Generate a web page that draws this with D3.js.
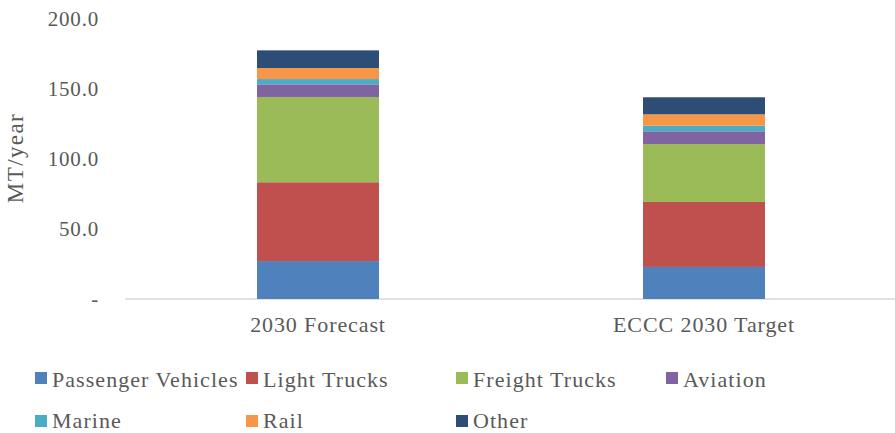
<!DOCTYPE html>
<html><head><meta charset="utf-8">
<script src="https://cdn.jsdelivr.net/npm/d3@7"></script>
<style>body{margin:0;background:#fff}svg{display:block}</style>
</head><body><svg id="c" width="895" height="433"></svg>
<script>
const categories = ["2030 Forecast", "ECCC 2030 Target"];
const seriesNames = ["Passenger Vehicles", "Light Trucks", "Freight Trucks", "Aviation", "Marine", "Rail", "Other"];
const passengerVehicles = [27.1, 22.9];
const lightTrucks = [56.3, 46.4];
const freightTrucks = [60.9, 41.4];
const aviation = [9.0, 9.1];
const marine = [3.8, 4.0];
const rail = [7.9, 8.1];
const other = [12.6, 12.2];
const colors = ["#4f81bd", "#c0504d", "#9bbb59", "#8064a2", "#4bacc6", "#f79646", "#2c4d75"];
const yTicks = [0, 50, 100, 150, 200];
const yTickLabels = ["-", "50.0", "100.0", "150.0", "200.0"];

(function () {
const FONT = "'Liberation Serif', 'Times New Roman', Times, 'DejaVu Serif', serif";
const values = [passengerVehicles, lightTrucks, freightTrucks, aviation, marine, rail, other];
const rows = categories.map((c, i) => {
  const r = {cat: c};
  seriesNames.forEach((s, j) => r[s] = values[j][i]);
  return r;
});
const stack = d3.stack().keys(seriesNames)(rows);

const svg = d3.select("#c");
const mLeft = 125, mRight = 897, mTop = 19, mBottom = 299;
const x = d3.scaleBand().domain(categories).range([mLeft, mRight]).paddingInner(0.684).paddingOuter(0.342);
const y = d3.scaleLinear().domain([0, 200]).range([mBottom, mTop]);
const color = d3.scaleOrdinal().domain(seriesNames).range(colors);

svg.append("line").attr("x1", mLeft).attr("x2", 895).attr("y1", y(0)).attr("y2", y(0))
  .attr("stroke", "#d9d9d9").attr("stroke-width", 1.5);

svg.append("g").selectAll("g").data(stack).join("g").attr("fill", d => color(d.key))
  .selectAll("rect").data(d => d).join("rect")
  .attr("x", d => x(d.data.cat)).attr("width", x.bandwidth())
  .attr("y", d => y(d[1])).attr("height", d => y(d[0]) - y(d[1]));

const txt = (sel, size, ls) => sel.attr("font-family", FONT).attr("fill", "#595959")
  .attr("font-size", size).attr("letter-spacing", ls);

svg.append("g").selectAll("text").data(yTicks).join("text")
  .attr("x", 99).attr("y", d => y(d) + 7).attr("text-anchor", "end")
  .call(txt, 21, 0.8).text((d, i) => yTickLabels[i]);

svg.append("text").attr("transform", `translate(23,158) rotate(-90)`)
  .attr("text-anchor", "middle").call(txt, 23, 1.4).text("MT/year");

svg.append("g").selectAll("text").data(categories).join("text")
  .attr("x", d => x(d) + x.bandwidth() / 2).attr("y", 332)
  .attr("text-anchor", "middle").call(txt, 22, 0.9).text(d => d);

const legX = [35, 246, 456, 666], legY = [387, 428], swY = [372, 415];
const leg = svg.append("g").selectAll("g").data(seriesNames).join("g")
  .attr("transform", (d, i) => `translate(${legX[i % 4]},0)`);
leg.append("rect").attr("x", 0).attr("y", (d, i) => swY[Math.floor(i / 4)])
  .attr("width", 12).attr("height", 12).attr("fill", d => color(d));
leg.append("text").attr("x", 17).attr("y", (d, i) => legY[Math.floor(i / 4)])
  .call(txt, 22, 1.05).text(d => d);
})();
</script></body></html>
